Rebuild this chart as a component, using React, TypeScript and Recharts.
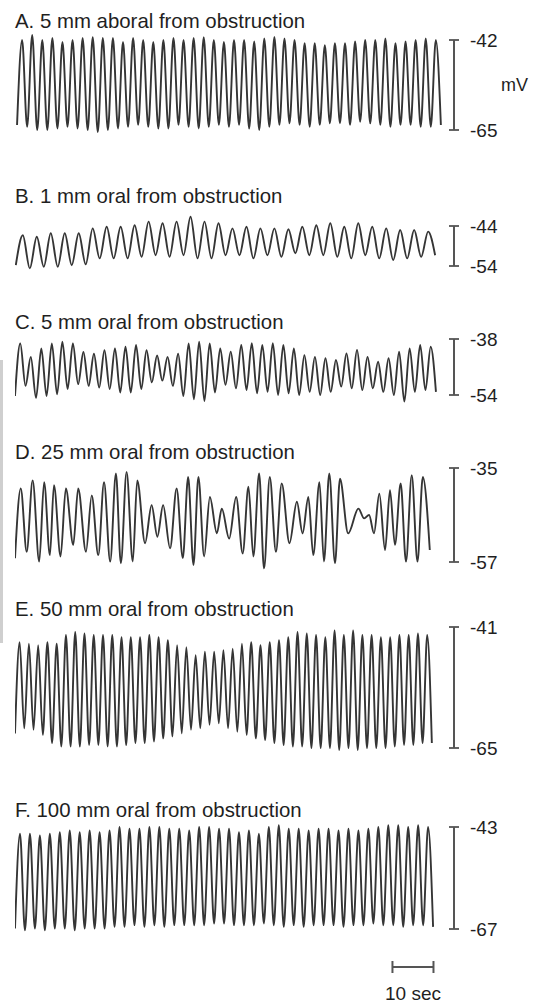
import React from "react";
import { Line, LineChart, ReferenceLine, XAxis, YAxis } from "recharts";

const FONT = '"Liberation Sans", Arial, Helvetica, sans-serif';
const INK = "#1f1f1f";
const TRACE = "#353535";
const BAR = "#555555";

// time base: the plot spans 0..T_MAX seconds
const T_MAX = 107;
const PLOT_LEFT = 15;
const AXIS_W = 82;
const PAD = 14;

const TITLES = [
  "A. 5 mm aboral from obstruction",
  "B. 1 mm oral from obstruction",
  "C. 5 mm oral from obstruction",
  "D. 25 mm oral from obstruction",
  "E. 50 mm oral from obstruction",
  "F. 100 mm oral from obstruction",
];

// scale bars (mV)
const A_SCALE = [-65, -42];
const B_SCALE = [-54, -44];
const C_SCALE = [-54, -38];
const D_SCALE = [-57, -35];
const E_SCALE = [-65, -41];
const F_SCALE = [-67, -43];

// first / last extremum (s)
const A_SPAN = [0.5, 103.8];
const B_SPAN = [0.2, 102.4];
const C_SPAN = [0, 102.6];
const E_SPAN = [0, 101.6];
const F_SPAN = [0, 101.9];

const TIME_BAR = [92, 102];

// slow waves, read cycle by cycle (mV)
const A_TROUGHS = [
  -63.7, -64.2, -65, -65, -64.6, -64.2, -64.6, -65, -65.5, -65, -64.6, -64.2, -63.7, -64.2,
  -64.6, -64.6, -63.7, -64.2, -64.6, -64.2, -63.7, -64.2, -63.7, -64.6, -65, -64.2, -63.7,
  -63.3, -63.7, -64.2, -63.7, -63.3, -63.3, -63.7, -62.9, -63.3, -63.7, -64.2, -63.7, -63.7,
  -64.2, -64.2, -63.7,
];
const A_PEAKS = [
  -42, -40.7, -42, -41.5, -42.5, -42, -41.5, -41.3, -41.5, -41.5, -42.5, -41.5, -42, -42.5,
  -42, -41.5, -42, -41.5, -41.3, -42, -42.5, -42, -42, -42.4, -41.6, -41.2, -41.6, -42, -42.8,
  -42.8, -43.3, -42.8, -42.8, -42.4, -42, -42, -41.6, -42.8, -42.4, -42, -41.6, -42,
];

const B_TROUGHS = [
  -53.8, -54.6, -54.2, -54.2, -53.8, -53.6, -52.1, -52.1, -52.1, -51.7, -51.3, -51.7, -51.3,
  -52.1, -52.1, -51.3, -51.3, -52.1, -51.3, -51.7, -50.8, -51.3, -51.3, -51.7, -52.1, -51.3,
  -52.1, -52.5, -52.1, -51.7, -51.3,
];
const B_PEAKS = [
  -46.3, -46.7, -45.8, -45.8, -45.8, -44.6, -44.2, -44.2, -43.8, -42.9, -43.3, -42.9, -41.7,
  -42.9, -43.3, -44.6, -44.2, -44.6, -44.6, -44.8, -44.2, -43.8, -43.3, -44.2, -43.3, -44.2,
  -44.6, -45, -45, -45.4,
];

const C_TROUGHS = [
  -54.3, -51.4, -54.8, -54.3, -53.8, -52.3, -50.9, -51.4, -51.9, -52.3, -53.3, -53.3, -52.3,
  -50.4, -49.9, -51.4, -54.3, -55.2, -55.7, -53.3, -51.1, -52.1, -52.6, -53.5, -53.1, -54,
  -53.5, -54, -53.1, -54, -53.1, -51.6, -52.1, -52.6, -52.1, -53.1, -54, -55.9, -53.1, -52.6,
  -53.1,
];
const C_PEAKS = [
  -39.3, -43.1, -40.7, -39.3, -38.8, -39.3, -41.7, -42.2, -41.2, -40.7, -40.2, -39.7, -41.2,
  -42.7, -43.1, -42.2, -39.3, -38.8, -39.3, -40.7, -41.6, -39.7, -39.2, -39.7, -39.2, -39.7,
  -40.7, -42.6, -43.1, -43.5, -44, -42.1, -41.1, -43.1, -44.5, -43.5, -41.6, -40.7, -39.7,
  -40.2,
];

// D is irregular, so each extremum keeps its own time
const D_TIMES = [
  0, 1.4, 2.85, 4.3, 5.9, 7.1, 8.5, 9.5, 11.1, 12.4, 14.2, 15.4, 17.3, 18.7, 20.3, 21.7, 23.2,
  24.6, 25.8, 27.2, 28.7, 29.8, 31.7, 33.3, 34.7, 36.1, 37.8, 39.4, 40.9, 42.2, 43.5, 44.7,
  46.1, 47.5, 49.2, 50.4, 52.2, 53.9, 55.5, 56.9, 58.1, 59.5, 60.7, 62.1, 63.6, 65, 66.9, 68.7,
  70.1, 71.5, 72.7, 74.2, 75.3, 76.6, 78, 79.2, 81.2, 83.7, 85.1, 86.3, 87.5, 88.8, 90.2, 91.4,
  92.6, 94, 95.3, 96.7, 98.1, 99.4, 101.1,
];
const D_LEVELS = [
  -56.1, -39.8, -54.6, -37.9, -56.9, -38.3, -55.4, -39, -55.7, -39.8, -53, -39.8, -54.6, -41.4,
  -55.4, -38.3, -56.9, -36.3, -57.3, -35.9, -56.9, -37.9, -52.6, -43.7, -51.1, -43.7, -53.8,
  -39.8, -56.1, -37.1, -57.7, -37.1, -55.7, -41.8, -50.3, -44.5, -51.5, -41.8, -55, -39.4,
  -55.7, -36.3, -58.5, -37.1, -54.6, -38.6, -52.6, -42.9, -50.3, -41.8, -55.4, -38.3, -56.9,
  -36.3, -57.3, -37.5, -50.3, -44.5, -46.8, -46, -50.3, -41, -54.2, -40.2, -53, -38.6, -56.9,
  -36.7, -56.9, -37.1, -54.2,
];

const E_TROUGHS = [
  -62.1, -61.1, -61.4, -62.4, -64, -64.7, -64.7, -64.7, -64.4, -64.4, -64.7, -64.7, -64.4, -64,
  -64, -63.7, -63.1, -62.7, -62.1, -61.4, -61.1, -60.4, -60.1, -61.1, -61.8, -62.4, -63.1,
  -63.4, -64, -64.4, -64.7, -64.7, -65, -65, -65, -65.4, -65, -65.4, -65, -65, -65, -64.7,
  -64.4, -64.4, -64, -64,
];
const E_PEAKS = [
  -44, -44.3, -44.6, -44, -44.3, -42.6, -42, -42.3, -42.6, -42.6, -42.6, -43, -43, -43, -42.6,
  -43, -43.6, -44.6, -45, -46.6, -45.9, -45.9, -45.6, -45.3, -44.3, -44, -44.6, -44, -43.6,
  -43, -42, -42.3, -42.6, -43, -41.7, -42.6, -41.7, -42.6, -42.6, -43, -43, -42.6, -42.6,
  -42.3, -42.6,
];

const F_TROUGHS = [
  -66.9, -67.3, -66.9, -67.3, -66.9, -66.9, -67.3, -66.9, -66.9, -66.9, -66.5, -66.5, -66.1,
  -66.5, -66.1, -66.5, -66.1, -66.1, -66.1, -66.1, -65.7, -65.7, -66.1, -66.1, -66.1, -65.7,
  -66.1, -66.5, -66.1, -66.5, -66.1, -66.1, -66.1, -66.5, -66.1, -66.1, -65.7, -66.1, -66.1,
  -66.5, -66.1, -66.1, -66.5,
];
const F_PEAKS = [
  -44.6, -44.6, -45, -44.6, -44.2, -43.8, -44.2, -43.8, -44.2, -43.8, -43, -43.4, -43.4, -43,
  -43, -43.4, -43.4, -43.8, -43, -43, -43.4, -43.4, -44.2, -43.8, -44.6, -43, -42.6, -43.4,
  -43.4, -43.8, -43.4, -43.4, -43.8, -43.4, -43.8, -43.4, -43, -42.6, -42.6, -43, -42.6, -43,
];

type Pt = { t: number; v: number };

function alternate(troughs: number[], peaks: number[]) {
  const out: number[] = [];
  troughs.forEach((tr, i) => {
    out.push(tr);
    if (i < peaks.length) out.push(peaks[i]);
  });
  return out;
}

function evenly(levels: number[], span: number[]): Pt[] {
  const dt = (span[1] - span[0]) / (levels.length - 1);
  return levels.map((v, i) => ({ t: span[0] + i * dt, v }));
}

const PANELS = [
  { title: TITLES[0], scale: A_SCALE, data: evenly(alternate(A_TROUGHS, A_PEAKS), A_SPAN), yTop: 40, yBot: 130, base: 28, unit: true },
  { title: TITLES[1], scale: B_SCALE, data: evenly(alternate(B_TROUGHS, B_PEAKS), B_SPAN), yTop: 226, yBot: 266, base: 203 },
  { title: TITLES[2], scale: C_SCALE, data: evenly(alternate(C_TROUGHS, C_PEAKS), C_SPAN), yTop: 339, yBot: 395, base: 329 },
  { title: TITLES[3], scale: D_SCALE, data: D_LEVELS.map((v, i) => ({ t: D_TIMES[i], v })), yTop: 468, yBot: 562, base: 459 },
  { title: TITLES[4], scale: E_SCALE, data: evenly(alternate(E_TROUGHS, E_PEAKS), E_SPAN), yTop: 627, yBot: 748, base: 616 },
  { title: TITLES[5], scale: F_SCALE, data: evenly(alternate(F_TROUGHS, F_PEAKS), F_SPAN), yTop: 827, yBot: 929, base: 817, timeBar: true },
];

function ScaleTick(props: any) {
  const { x, y, payload } = props;
  return (
    <g>
      <line x1={x - 5} x2={x + 5} y1={y} y2={y} stroke={BAR} strokeWidth={1.8} />
      <text x={x + 16} y={y} dy="0.36em" fontSize={19} fill={INK} fontFamily={FONT}>
        {payload.value}
      </text>
    </g>
  );
}

function Trace({ p }: { p: (typeof PANELS)[number] }) {
  const [lo, hi] = p.scale;
  const ppm = (p.yBot - p.yTop) / (hi - lo);
  const plotH = p.yBot - p.yTop + 2 * PAD;
  const extra = p.timeBar ? 76 : 0;
  const barY = lo - 38 / ppm;
  const cap = 6 / ppm;

  return (
    <>
      <div
        style={{
          position: "absolute",
          left: PLOT_LEFT,
          top: p.base - 17,
          fontSize: 20.4,
          lineHeight: "20px",
          fontFamily: FONT,
          color: INK,
          whiteSpace: "nowrap",
        }}
      >
        {p.title}
      </div>
      <div style={{ position: "absolute", left: 0, top: p.yTop - PAD }}>
        <LineChart
          width={536}
          height={plotH + extra}
          data={p.data}
          margin={{ top: 0, right: 0, bottom: extra, left: PLOT_LEFT }}
        >
          <XAxis type="number" dataKey="t" domain={[0, T_MAX]} allowDataOverflow hide />
          <YAxis
            orientation="right"
            type="number"
            domain={[lo - PAD / ppm, hi + PAD / ppm]}
            allowDataOverflow
            ticks={p.scale}
            interval={0}
            width={AXIS_W}
            axisLine={false}
            tickLine={false}
            tickSize={0}
            tickMargin={0}
            tick={(props: any) => <ScaleTick {...props} />}
            label={
              p.unit
                ? { value: "mV", position: "insideRight", offset: 8, fontSize: 18, fill: INK, fontFamily: FONT }
                : undefined
            }
          />
          <ReferenceLine
            segment={[{ x: T_MAX, y: lo }, { x: T_MAX, y: hi }]}
            stroke={BAR}
            strokeWidth={2}
            ifOverflow="visible"
          />
          <Line
            type="monotone"
            dataKey="v"
            stroke={TRACE}
            strokeWidth={1.9}
            dot={false}
            isAnimationActive={false}
          />
          {p.timeBar && (
            <ReferenceLine
              segment={[{ x: TIME_BAR[0], y: barY }, { x: TIME_BAR[1], y: barY }]}
              stroke={BAR}
              strokeWidth={2}
              ifOverflow="visible"
              label={{ value: "10 sec", position: "bottom", offset: 20, fontSize: 19, fill: INK, fontFamily: FONT }}
            />
          )}
          {p.timeBar &&
            TIME_BAR.map((t) => (
              <ReferenceLine
                key={t}
                segment={[{ x: t, y: barY - cap }, { x: t, y: barY + cap }]}
                stroke={BAR}
                strokeWidth={2}
                ifOverflow="visible"
              />
            ))}
        </LineChart>
      </div>
    </>
  );
}

export default function App() {
  return (
    <div
      style={{
        position: "absolute",
        left: 0,
        top: 0,
        width: 536,
        height: 1007,
        overflow: "hidden",
        background: "#ffffff",
      }}
    >
      <div style={{ position: "absolute", left: 0, top: 360, width: 3, height: 283, background: "#cfcfcf" }} />
      {PANELS.map((p) => (
        <Trace key={p.title} p={p} />
      ))}
    </div>
  );
}
